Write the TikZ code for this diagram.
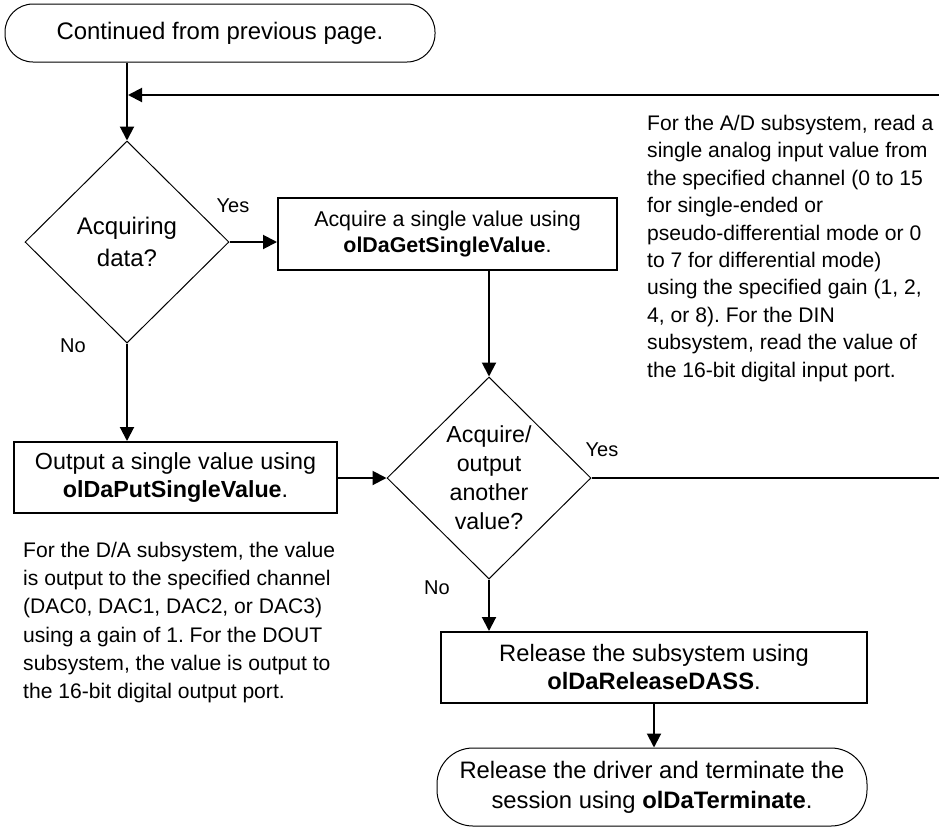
\documentclass[tikz,border=0pt]{standalone}
\usepackage{fontspec}
\setmainfont{Liberation Sans}
\usetikzlibrary{arrows.meta,shapes.geometric}
\frenchspacing
\begin{document}
\begin{tikzpicture}[x=1pt,y=-1pt,
  box/.style={draw,line width=2pt,inner sep=0pt,align=center},
  term/.style={draw,line width=1pt,inner sep=0pt,align=center},
  dec/.style={draw,diamond,line width=1pt,inner sep=0pt,minimum width=204pt,minimum height=202pt,align=center},
  conn/.style={line width=2pt,-{Triangle[length=14pt,width=14pt]}},
  lbl/.style={inner sep=0pt,font=\fontsize{20}{24}\selectfont},
  note/.style={inner sep=0pt,align=left,anchor=north west}
]
\path[use as bounding box] (0,0) rectangle (939,828);
\clip (0,0) rectangle (939,828);

\node[term,minimum width=430pt,minimum height=58pt,rounded corners=28pt,font=\fontsize{23.9}{28}\selectfont] (T1) at (220,33) {Continued from previous page.};

\node[dec,font=\fontsize{24}{32}\selectfont] (D1) at (127,242) {Acquiring\\data?};

\node[box,minimum width=339pt,minimum height=72pt,font=\fontsize{21.4}{26.5}\selectfont] (B1) at (447.5,234) {Acquire a single value using\\\textbf{olDaGetSingleValue}.};

\node[dec,font=\fontsize{23.2}{29}\selectfont] (D2) at (489,478) {Acquire/\\output\\another\\value?};

\node[box,minimum width=323pt,minimum height=71pt,font=\fontsize{23.3}{28}\selectfont] (B2) at (175.5,477.5) {Output a single value using\\\textbf{olDaPutSingleValue}.};

\node[box,minimum width=426pt,minimum height=71pt,font=\fontsize{23.7}{28}\selectfont] (B3) at (654,667.5) {Release the subsystem using\\\textbf{olDaReleaseDASS}.};

\node[term,minimum width=430pt,minimum height=78pt,rounded corners=36pt,font=\fontsize{23.8}{30}\selectfont] (T2) at (652,787) {Release the driver and terminate the\\session using \textbf{olDaTerminate}.};

\node[note,font=\fontsize{21.1}{27.4}\selectfont] (NR) at (647,115) {For the A/D subsystem, read a\\single analog input value from\\the specified channel (0 to 15\\for single-ended or\\pseudo-differential mode or 0\\to 7 for differential mode)\\using the specified gain (1, 2,\\4, or 8). For the DIN\\subsystem, read the value of\\the 16-bit digital input port.};

\node[note,font=\fontsize{21.1}{28.2}\selectfont] (NL) at (23,542) {For the D/A subsystem, the value\\is output to the specified channel\\(DAC0, DAC1, DAC2, or DAC3)\\using a gain of 1. For the DOUT\\subsystem, the value is output to\\the 16-bit digital output port.};

\node[lbl] (Y1) at (233,206) {Yes};
\node[lbl] (NO1) at (73,346) {No};
\node[lbl] (Y2) at (602,450) {Yes};
\node[lbl] (NO2) at (437,588) {No};

\coordinate (J) at (128,95);
\coordinate (R) at (980,478);

\draw[conn] (T1.south -| D1.north) -- (D1.north);
\draw[conn] (D1.east) -- (D1.east -| B1.west);
\draw[conn] (B1.south -| D2.north) -- (D2.north);
\draw[conn] (D1.south) -- (D1.south |- B2.north);
\draw[conn] (D2.west -| B2.east) -- (D2.west);
\draw[conn] (D2.south) -- (D2.south |- B3.north);
\draw[conn] (B3.south) -- (B3.south |- T2.north);
\draw[conn] (D2.east) -- (R) |- (J);
\end{tikzpicture}
\end{document}
